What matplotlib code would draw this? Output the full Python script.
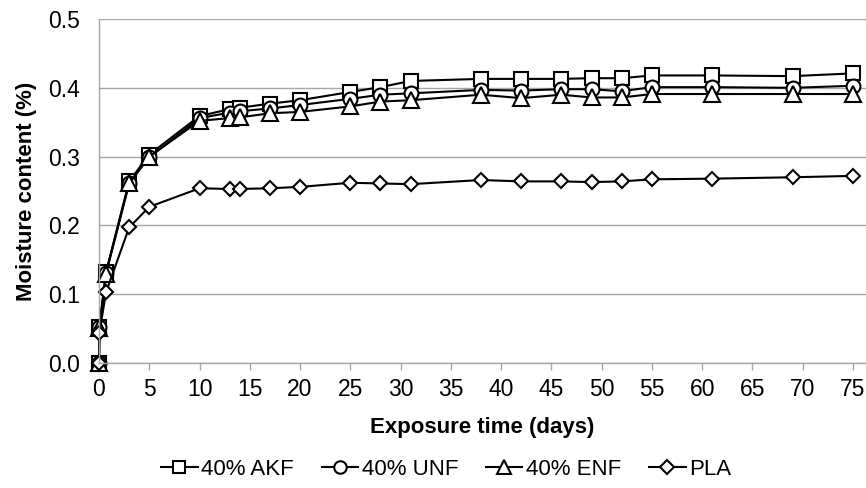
import matplotlib
matplotlib.use("Agg")
import matplotlib.pyplot as plt

plt.rcParams['font.family'] = ['Liberation Sans', 'DejaVu Sans']

# Exposure time (days) and moisture uptake (%) for each material
days = [0, 0.04, 0.7, 3, 5, 10, 13, 14, 17, 20, 25, 28, 31, 38, 42, 46, 49, 52, 55, 61, 69, 75]
akf = [0.000, 0.053, 0.132, 0.264, 0.303, 0.359, 0.369, 0.371, 0.377, 0.382, 0.394, 0.401, 0.410,
       0.413, 0.413, 0.413, 0.414, 0.414, 0.418, 0.418, 0.417, 0.421]
unf = [0.000, 0.052, 0.131, 0.262, 0.299, 0.356, 0.364, 0.366, 0.370, 0.375, 0.384, 0.390, 0.392,
       0.397, 0.396, 0.398, 0.398, 0.395, 0.401, 0.401, 0.400, 0.403]
enf = [0.000, 0.051, 0.130, 0.261, 0.300, 0.352, 0.356, 0.357, 0.363, 0.365, 0.373, 0.380, 0.382,
       0.390, 0.385, 0.390, 0.386, 0.386, 0.391, 0.391, 0.391, 0.391]
pla = [0.000, 0.044, 0.103, 0.197, 0.227, 0.254, 0.253, 0.253, 0.254, 0.256, 0.262, 0.261, 0.260,
       0.266, 0.264, 0.264, 0.263, 0.264, 0.267, 0.268, 0.270, 0.272]

series = [
    ("40% AKF", akf, "s", 10),
    ("40% UNF", unf, "o", 10),
    ("40% ENF", enf, "^", 11),
    ("PLA", pla, "D", 7.5),
]

x_ticks = list(range(0, 80, 5))
y_ticks = [0.0, 0.1, 0.2, 0.3, 0.4, 0.5]

grey = "#a6a6a6"

fig = plt.figure(figsize=(8.66, 4.88), dpi=100)
ax = fig.add_axes([0.1143, 0.2561, 0.8857, 0.7049])

for label, vals, marker, ms in series:
    ax.plot(days, vals, color="black", lw=1.5, marker=marker, ms=ms,
            mfc="white", mec="black", mew=1.5, label=label, clip_on=False)

ax.set_xlim(0, 76.3)
ax.set_ylim(0, 0.5)
ax.set_xticks(x_ticks)
ax.set_yticks(y_ticks)
ax.set_yticklabels([f"{v:.1f}" for v in y_ticks])

ax.yaxis.grid(True, color=grey, lw=1.0)
ax.set_axisbelow(True)
for side in ("top", "right"):
    ax.spines[side].set_visible(False)
for side in ("left", "bottom"):
    ax.spines[side].set_color(grey)
    ax.spines[side].set_linewidth(1.0)

ax.tick_params(axis="x", direction="out", length=5, color=grey, width=1.0,
               labelsize=16.5, pad=6)
ax.tick_params(axis="y", length=0, labelsize=16.5, pad=14)

ax.set_xlabel("Exposure time (days)", fontsize=16, fontweight="bold", labelpad=11)
ax.set_ylabel("Moisture content (%)", fontsize=16, fontweight="bold", labelpad=8)

fig.legend(loc="center", bbox_to_anchor=(0.515, 0.038), ncol=4, frameon=False,
           fontsize=16, handlelength=1.65, handletextpad=0.15, columnspacing=1.25,
           markerscale=0.9)

fig.savefig("out.png", dpi=100)
